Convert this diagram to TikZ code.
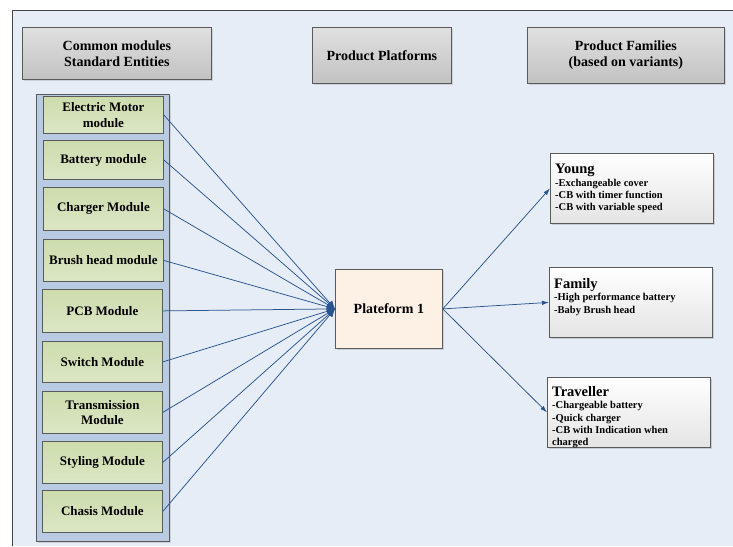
\documentclass[tikz,border=0pt]{standalone}
\usepackage{fontspec}
\setmainfont{Liberation Serif}
\usetikzlibrary{arrows.meta,shadows}

\definecolor{bgblue}{HTML}{E6EDF7}
\definecolor{framegray}{HTML}{454545}
\definecolor{boxgray}{HTML}{5A5A5A}
\definecolor{hdtop}{HTML}{E0E0E0}
\definecolor{hdbot}{HTML}{C2C2C2}
\definecolor{colfill}{HTML}{B8CBE3}
\definecolor{modtop}{HTML}{CDDCAD}
\definecolor{modbot}{HTML}{DCE6C5}
\definecolor{platfill}{HTML}{FDF1E6}
\definecolor{famtop}{HTML}{FFFFFF}
\definecolor{fambot}{HTML}{E4E4E4}
\definecolor{linkblue}{HTML}{2A548E}

\newcommand{\famtitlefont}{\fontsize{14.5}{14.5}\selectfont\bfseries}

\tikzset{
  hdrbox/.style={draw=boxgray, line width=0.8pt, top color=hdtop, bottom color=hdbot,
    font=\fontsize{14}{16}\selectfont\bfseries, align=center, inner sep=0pt,
    anchor=north west, drop shadow={opacity=0.25, shadow xshift=1.2pt, shadow yshift=-1.2pt}},
  modbox/.style={draw=boxgray, line width=0.8pt, top color=modtop, bottom color=modbot,
    font=\fontsize{13}{15.5}\selectfont\bfseries, align=center, inner sep=0pt,
    minimum width=120pt, anchor=north west},
  platbox/.style={draw=boxgray, line width=0.8pt, fill=platfill,
    font=\fontsize{14}{16}\selectfont\bfseries, inner sep=0pt, anchor=north west,
    drop shadow={opacity=0.25, shadow xshift=1.2pt, shadow yshift=-1.2pt}},
  fambox/.style={draw=boxgray, line width=0.8pt, top color=famtop, bottom color=fambot,
    inner sep=0pt, minimum width=163pt, minimum height=70pt, anchor=north west,
    drop shadow={opacity=0.3, shadow xshift=1.2pt, shadow yshift=-1.2pt}},
  famtext/.style={anchor=north west, inner sep=0pt, align=left,
    font=\fontsize{10.5}{12.4}\selectfont\bfseries},
  link/.style={draw=linkblue, line width=0.75pt, -{Latex[length=7pt,width=4.5pt]}},
  feed/.style={draw=linkblue, line width=0.75pt, -{Latex[length=8pt,width=7pt]}},
}

\begin{document}
\begin{tikzpicture}[x=1pt,y=-1pt]
\useasboundingbox (0,0) rectangle (733,546);

% panel background with its top and left border
\fill[bgblue] (12,10) rectangle (733,546);
\draw[framegray, line width=0.9pt] (12,546) -- (12,10) -- (733,10);

% column headers
\node[hdrbox, minimum width=189pt, minimum height=52pt] (hmod) at (22,27)
  {Common modules\\Standard Entities};
\node[hdrbox, minimum width=139pt, minimum height=56pt] (hplat) at (312,27)
  {Product Platforms};
\node[hdrbox, minimum width=197pt, minimum height=56pt] (hfam) at (527,27)
  {Product Families\\(based on variants)};

% module column
\node[draw=boxgray, line width=1pt, fill=colfill, minimum width=133pt, minimum height=447pt,
  anchor=north west, inner sep=0pt,
  drop shadow={opacity=0.25, shadow xshift=1.2pt, shadow yshift=-1.2pt}] (column) at (36,94) {};

\node[modbox, minimum height=37pt] (m1) at (43,96)  {Electric Motor\\module};
\node[modbox, minimum height=39pt] (m2) at (43,140) {Battery module};
\node[modbox, minimum height=43pt] (m3) at (43,187) {Charger Module};
\node[modbox, minimum height=42pt] (m4) at (43,239) {Brush head module};
\node[modbox, minimum height=43pt] (m5) at (42,289) {PCB Module};
\node[modbox, minimum height=41pt] (m6) at (42,341) {Switch Module};
\node[modbox, minimum height=42pt] (m7) at (42,391) {Transmission\\Module};
\node[modbox, minimum height=42pt] (m8) at (42,441) {Styling Module};
\node[modbox, minimum height=42pt] (m9) at (42,490) {Chasis Module};

% platform
\node[platbox, minimum width=107pt, minimum height=79pt] (plat) at (335,269) {Plateform 1};

% product families
\node[fambox] (young) at (550,153) {};
\node[famtext] (youngtxt) at ([shift={(5pt,-11pt)}]young.north west)
  {{\famtitlefont Young}\\-Exchangeable cover\\-CB with timer function\\-CB with variable speed};
\node[fambox] (family) at (549,267) {};
\node[famtext] (familytxt) at ([shift={(5pt,-11pt)}]family.north west)
  {{\famtitlefont Family}\\-High performance battery\\-Baby Brush head};
\node[fambox] (travel) at (547,377) {};
\node[famtext] (traveltxt) at ([shift={(5pt,-9pt)}]travel.north west)
  {{\famtitlefont Traveller}\\-Chargeable battery\\-Quick charger\\-CB with Indication when\\charged};

% modules feeding the platform
\foreach \m in {m1,m2,m3,m4,m5,m6,m7,m8,m9}
  \draw[feed] (\m.east) -- (plat.west);

% platform branching into the families
\draw[link] (plat.east) -- (young.west);
\draw[link] (plat.east) -- (family.west);
\draw[link] (plat.east) -- (travel.west);
\end{tikzpicture}
\end{document}
